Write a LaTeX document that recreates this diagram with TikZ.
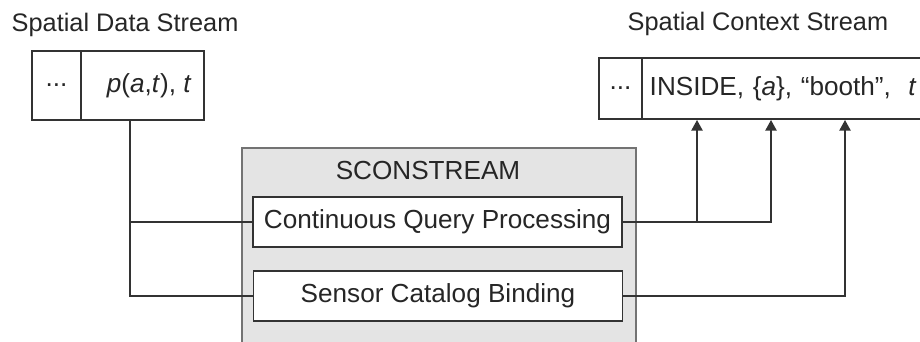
\documentclass[tikz,border=0pt]{standalone}
\usepackage{fontspec}
\setmainfont{Liberation Sans}
\usepackage{xcolor}
\usetikzlibrary{arrows.meta}
\definecolor{ink}{HTML}{333333}
\definecolor{panel}{HTML}{E4E4E4}
\tikzset{cell/.style={draw=ink,line width=1.1pt,fill=white,inner sep=0pt,minimum height=51.75pt},
 proc/.style={draw=ink,line width=1.1pt,fill=white,minimum width=276.75pt,minimum height=37.5pt,inner sep=0pt},
 link/.style={draw=ink,line width=1.1pt},
 feed/.style={link,-{Triangle[length=8pt,width=8.5pt]}},
 heading/.style={anchor=base west,font=\fontsize{19}{22}\selectfont},
 }

\begin{document}
\begin{tikzpicture}[x=0.75pt,y=-0.75pt,font=\fontsize{19.6}{22}\selectfont,text=black!85]
        \useasboundingbox (0,0) rectangle (920,342);
        \node[heading] (dtitle) at (7,32) {Spatial Data Stream};
        \node[heading] (ctitle) at (623,31) {Spatial Context Stream};
        \node[cell,minimum width=36.75pt] (ddots) at (56.5,85.5) {...};
        \node[cell,minimum width=92.25pt] (pat) at (142.5,85.5) {\hspace*{10pt}\textit{p}(\textit{a},\textit{t}), \textit{t}};
        \node[cell,minimum width=32.25pt,minimum height=45.75pt] (cdots) at (620.5,88.5) {...};
        \node[cell,minimum height=45.75pt,anchor=west,text width=228pt,align=left,inner xsep=5.25pt] (ctx) at (642,88.5) {INSIDE, \{\textit{a}\}, “booth”, \ \textit{t}};
        \node[draw=black!55,line width=1.5pt,fill=panel,minimum width=295.5pt,minimum height=159.75pt,anchor=north] (scon) at (439,147) {};
        \node (sname) at (428,171) {SCONSTREAM};
        \node[proc] (cqp) at (437.5,222) {Continuous Query Processing};
        \node[proc] (scb) at (438,296) {Sensor Catalog Binding};
        \coordinate (tap) at (130,120);
        \coordinate (inA) at (697,120);
        \coordinate (inB) at (771,120);
        \coordinate (inC) at (845,120);
        \draw[link] (tap) |- (scb.west);
        \draw[link] (tap |- cqp.west) -- (cqp.west);
        \draw[feed] (cqp.east) -| (inB);
        \draw[feed] (cqp.east -| inA) -- (inA);
        \draw[feed] (scb.east) -| (inC);
    \end{tikzpicture}
\end{document}
